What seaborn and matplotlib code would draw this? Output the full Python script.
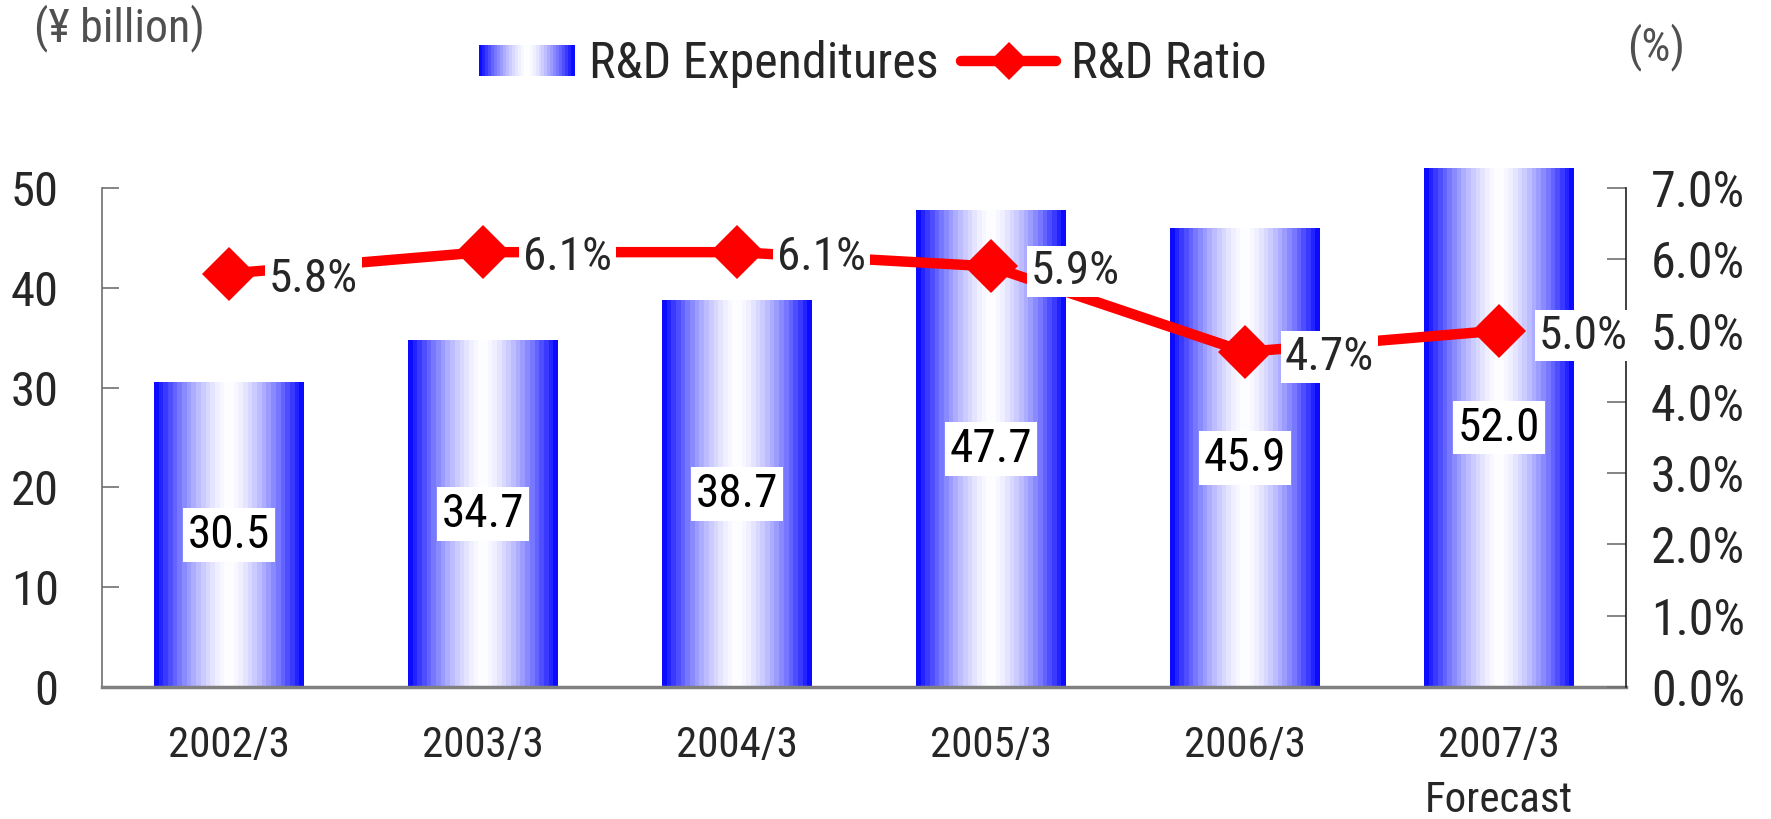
import numpy as np
import pandas as pd
import matplotlib
matplotlib.use("Agg")
import matplotlib.pyplot as plt
import seaborn as sns
from matplotlib.patches import Rectangle
from matplotlib.lines import Line2D
from matplotlib.legend_handler import HandlerBase
from matplotlib.font_manager import fontManager

periods = ["2002/3", "2003/3", "2004/3", "2005/3", "2006/3", "2007/3"]
period_labels = ["2002/3", "2003/3", "2004/3", "2005/3", "2006/3", "2007/3\nForecast"]
expenditures = [30.5, 34.7, 38.7, 47.7, 45.9, 52.0]
ratio = [5.8, 6.1, 6.1, 5.9, 4.7, 5.0]
left_ticks = [0, 10, 20, 30, 40, 50]
right_ticks = [0, 1, 2, 3, 4, 5, 6, 7]

sns.set_theme(style="white")
names = {f.name for f in fontManager.ttflist}
fam = [f for f in ["Liberation Sans Narrow", "Roboto Condensed", "Liberation Sans", "DejaVu Sans"] if f in names]
plt.rcParams["font.family"] = fam

W, H = 1771, 819
fig = plt.figure(figsize=(W / 100, H / 100), dpi=100)
ax = fig.add_axes([101.7 / W, 1 - 687 / H, (1626 - 101.7) / W, (687 - 188) / H])

df = pd.DataFrame({"period": periods, "value": expenditures})
sns.barplot(data=df, x="period", y="value", ax=ax, width=0.59, color="blue", saturation=1)

# gradient fill for bars
nb = 32
u = (np.arange(nb) + 0.5) / nb
t = np.abs(2 * u - 1) ** 1.5
grad = np.ones((1, nb, 3))
grad[0, :, 0] = 1 - t
grad[0, :, 1] = 1 - t
grad[0, :, 2] = 1.0

for p in ax.patches:
    x0, w, h = p.get_x(), p.get_width(), p.get_height()
    p.set_facecolor("none")
    p.set_edgecolor("none")
    im = ax.imshow(grad, extent=[x0, x0 + w, 0, h], aspect="auto", interpolation="nearest", zorder=1)
    im.set_clip_on(False)
    ax.text(x0 + w / 2, h / 2, f"{h:.1f}", ha="center", va="center", fontsize=34, color="black", zorder=3,
            bbox=dict(boxstyle="square,pad=0.1", fc="white", ec="none"))

ax.set_xlim(-0.5, len(periods) - 0.5)
ax.set_ylim(0, 50)
ax.set_xlabel("")
ax.set_ylabel("")
ax.set_yticks(left_ticks)
ax.set_yticklabels([str(v) for v in left_ticks], fontsize=35)
ax.set_xticks(range(len(periods)))
ax.set_xticklabels(period_labels, fontsize=31, linespacing=1.45)
ax.set_xticks(np.arange(len(periods) + 1) - 0.5, minor=True)
ax.tick_params(axis="x", which="major", length=0, pad=27)
ax.tick_params(axis="x", which="minor", direction="in", length=11, width=1.2, color="#404040")
ax.tick_params(axis="y", which="major", direction="in", length=12, width=1.2, color="#707070", pad=31, left=True)
for s in ["top", "right"]:
    ax.spines[s].set_visible(False)
ax.spines["left"].set_color("#707070")
ax.spines["left"].set_linewidth(1.2)
ax.spines["bottom"].set_color("#808080")
ax.spines["bottom"].set_linewidth(2.5)

ax2 = ax.twinx()
sns.lineplot(x=np.arange(len(ratio)), y=ratio, ax=ax2, color="#FF0000", lw=7.5, marker="D",
             markersize=27, markeredgewidth=0, zorder=4, legend=False)
ax2.set_ylim(0, 7)
ax2.set_yticks(right_ticks)
ax2.set_yticklabels([f"{v:.1f}%" for v in right_ticks], fontsize=36)
ax2.tick_params(axis="y", direction="in", length=14, width=1.2, color="#707070", pad=18, right=True)
for s in ["top", "left", "bottom"]:
    ax2.spines[s].set_visible(False)
ax2.spines["right"].set_color("#202020")
ax2.spines["right"].set_linewidth(1.2)
ax2.set_ylabel("")
ax2.set_xlim(-0.5, len(periods) - 0.5)
for i, r in enumerate(ratio):
    ax2.annotate(f"{r:.1f}%", (i, r), xytext=(40, -5), textcoords="offset pixels", ha="left", va="center",
                 fontsize=34, zorder=6, bbox=dict(boxstyle="square,pad=0.08", fc="white", ec="none"))


class HandlerGradient(HandlerBase):
    def create_artists(self, legend, orig_handle, xdescent, ydescent, width, height, fontsize, trans):
        arts = []
        for k in range(nb):
            r = Rectangle((xdescent * -1 + width * k / nb, -ydescent), width / nb + 0.3, height,
                          facecolor=tuple(grad[0, k]), edgecolor="none", transform=trans)
            arts.append(r)
        return arts


bar_handle = Rectangle((0, 0), 1, 1)
line_handle = Line2D([0], [0], color="#FF0000", lw=7.5, marker="D", markersize=19, markeredgewidth=0,
                     solid_capstyle="round")
fig.legend([bar_handle, line_handle], ["R&D Expenditures", "R&D Ratio"], loc="center",
           bbox_to_anchor=(873 / W, 1 - 64 / H), ncol=2, frameon=False, fontsize=36,
           handler_map={Rectangle: HandlerGradient()}, handlelength=1.9, handleheight=0.6,
           handletextpad=0.3, columnspacing=0.45)

fig.text(34 / W, 1 - 28 / H, "(¥ billion)", ha="left", va="center", fontsize=33, color="#505050")
fig.text(1685 / W, 1 - 47 / H, "(%)", ha="right", va="center", fontsize=33, color="#505050")

fig.savefig("out.png", dpi=100)
